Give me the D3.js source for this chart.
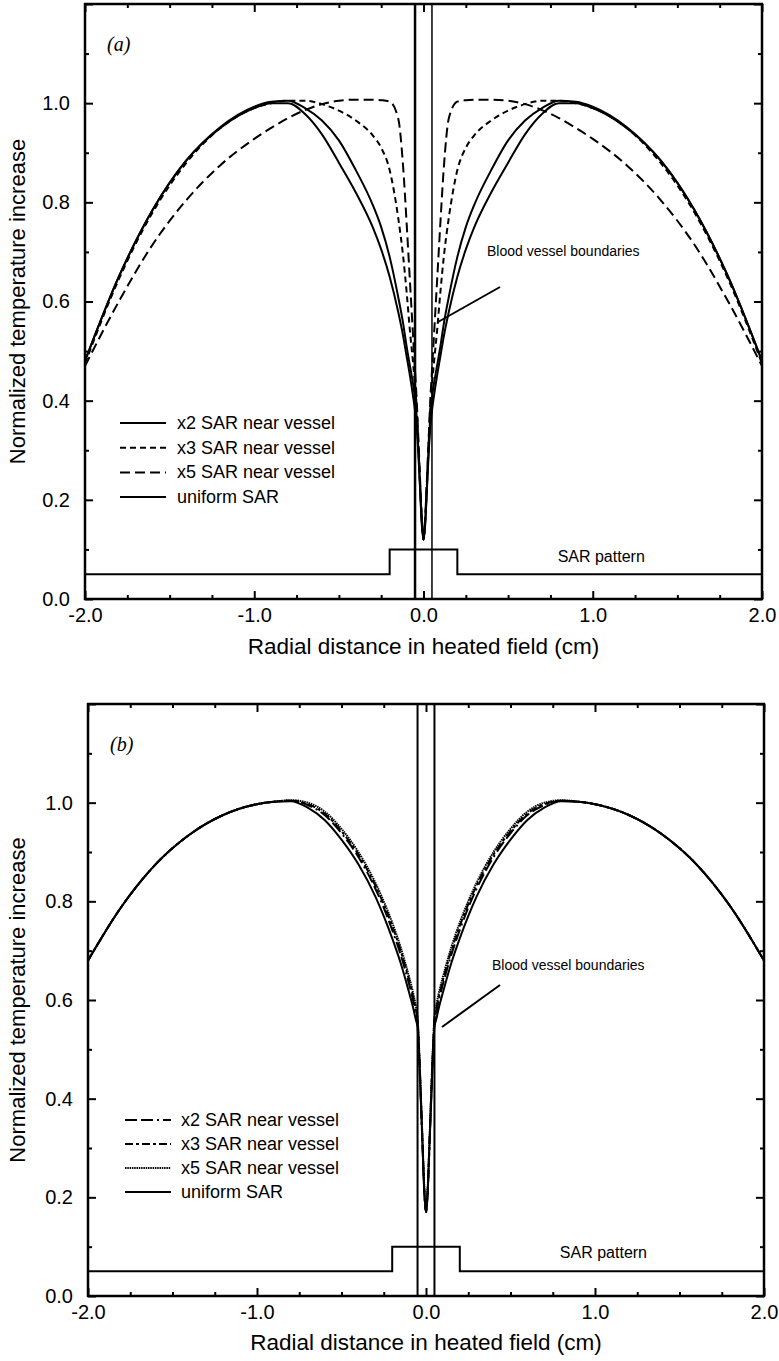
<!DOCTYPE html>
<html>
<head>
<meta charset="utf-8">
<script src="https://cdnjs.cloudflare.com/ajax/libs/d3/7.8.5/d3.min.js"></script>
<style>
  html, body { margin: 0; padding: 0; background: #fff; }
  svg { display: block; }
  text { font-family: "Liberation Sans", Arial, Helvetica, sans-serif; fill: #000; }
</style>
</head>
<body>
<svg id="chart" width="779" height="1361"></svg>
<script>
// ---------------- DATA ----------------
const xTickMajor = [-2, -1, 0, 1, 2];
const xTickLabels = ["-2.0", "-1.0", "0.0", "1.0", "2.0"];
const xTickMinor = [-1.75, -1.5, -1.25, -0.75, -0.5, -0.25, 0.25, 0.5, 0.75, 1.25, 1.5, 1.75];
const yTickMajor = [0, 0.2, 0.4, 0.6, 0.8, 1.0, 1.2];
const yTickLabels = ["0.0", "0.2", "0.4", "0.6", "0.8", "1.0", ""];
const yTickMinor = [0.1, 0.3, 0.5, 0.7, 0.9, 1.1];

// radial positions (cm)
const radialX = [-2.0, -1.8, -1.6, -1.4, -1.2, -1.0, -0.9, -0.8, -0.7, -0.6, -0.5, -0.4, -0.3, -0.25, -0.2, -0.15, -0.12, -0.1, -0.08, -0.06, -0.05, -0.04, -0.03, -0.02, -0.01, 0,
                 0.01, 0.02, 0.03, 0.04, 0.05, 0.06, 0.08, 0.1, 0.12, 0.15, 0.2, 0.25, 0.3, 0.4, 0.5, 0.6, 0.7, 0.8, 0.9, 1.0, 1.2, 1.4, 1.6, 1.8, 2.0];

// panel (a)
const a_x2 = [0.48, 0.65, 0.785, 0.885, 0.952, 0.993, 1.003, 1.005, 0.99, 0.965, 0.925, 0.865, 0.795, 0.75, 0.69, 0.61, 0.555, 0.51, 0.47, 0.43, 0.405, 0.365, 0.30, 0.225, 0.155, 0.12,
              0.155, 0.225, 0.30, 0.365, 0.405, 0.43, 0.47, 0.51, 0.555, 0.61, 0.69, 0.75, 0.795, 0.865, 0.925, 0.965, 0.99, 1.005, 1.003, 0.993, 0.952, 0.885, 0.785, 0.65, 0.48];
const a_x3 = [0.475, 0.645, 0.78, 0.88, 0.95, 0.99, 1.0, 1.005, 1.005, 0.998, 0.985, 0.965, 0.935, 0.91, 0.865, 0.77, 0.69, 0.62, 0.54, 0.47, 0.43, 0.385, 0.31, 0.23, 0.16, 0.12,
              0.16, 0.23, 0.31, 0.385, 0.43, 0.47, 0.54, 0.62, 0.69, 0.77, 0.865, 0.91, 0.935, 0.965, 0.985, 0.998, 1.005, 1.005, 1.0, 0.99, 0.95, 0.88, 0.78, 0.645, 0.475];
const a_x5 = [0.47, 0.60, 0.715, 0.805, 0.875, 0.928, 0.95, 0.97, 0.986, 0.998, 1.005, 1.007, 1.007, 1.006, 1.003, 0.97, 0.87, 0.76, 0.64, 0.52, 0.46, 0.40, 0.32, 0.24, 0.165, 0.12,
              0.165, 0.24, 0.32, 0.40, 0.46, 0.52, 0.64, 0.76, 0.87, 0.97, 1.003, 1.006, 1.007, 1.007, 1.005, 0.998, 0.986, 0.97, 0.95, 0.928, 0.875, 0.805, 0.715, 0.60, 0.47];
const a_uni = [0.48, 0.65, 0.785, 0.885, 0.95, 0.99, 1.0, 1.0, 0.978, 0.937, 0.88, 0.82, 0.75, 0.705, 0.65, 0.58, 0.53, 0.49, 0.45, 0.405, 0.38, 0.345, 0.29, 0.22, 0.15, 0.12,
               0.15, 0.22, 0.29, 0.345, 0.38, 0.405, 0.45, 0.49, 0.53, 0.58, 0.65, 0.705, 0.75, 0.82, 0.88, 0.937, 0.978, 1.0, 1.0, 0.99, 0.95, 0.885, 0.785, 0.65, 0.48];

// panel (b)
const b_x2 = [0.68, 0.79, 0.875, 0.935, 0.975, 0.997, 1.002, 1.004, 0.995, 0.975, 0.938, 0.89, 0.826, 0.787, 0.742, 0.692, 0.657, 0.632, 0.605, 0.573, 0.555, 0.485, 0.395, 0.30, 0.21, 0.17,
              0.21, 0.30, 0.395, 0.485, 0.555, 0.573, 0.605, 0.632, 0.657, 0.692, 0.742, 0.787, 0.826, 0.89, 0.938, 0.975, 0.995, 1.004, 1.002, 0.997, 0.975, 0.935, 0.875, 0.79, 0.68];
const b_x3 = [0.68, 0.79, 0.875, 0.935, 0.975, 0.997, 1.002, 1.004, 0.997, 0.978, 0.942, 0.895, 0.832, 0.794, 0.75, 0.70, 0.665, 0.64, 0.612, 0.58, 0.56, 0.49, 0.40, 0.305, 0.215, 0.17,
              0.215, 0.305, 0.40, 0.49, 0.56, 0.58, 0.612, 0.64, 0.665, 0.70, 0.75, 0.794, 0.832, 0.895, 0.942, 0.978, 0.997, 1.004, 1.002, 0.997, 0.975, 0.935, 0.875, 0.79, 0.68];
const b_x5 = [0.68, 0.79, 0.875, 0.935, 0.975, 0.997, 1.002, 1.005, 1.0, 0.982, 0.947, 0.90, 0.838, 0.80, 0.757, 0.707, 0.672, 0.647, 0.62, 0.587, 0.565, 0.495, 0.405, 0.31, 0.22, 0.175,
              0.22, 0.31, 0.405, 0.495, 0.565, 0.587, 0.62, 0.647, 0.672, 0.707, 0.757, 0.80, 0.838, 0.90, 0.947, 0.982, 1.0, 1.005, 1.002, 0.997, 0.975, 0.935, 0.875, 0.79, 0.68];
const b_uni = [0.68, 0.79, 0.875, 0.935, 0.975, 0.997, 1.002, 1.003, 0.99, 0.965, 0.925, 0.875, 0.81, 0.77, 0.725, 0.675, 0.64, 0.615, 0.59, 0.56, 0.545, 0.48, 0.39, 0.30, 0.21, 0.17,
               0.21, 0.30, 0.39, 0.48, 0.545, 0.56, 0.59, 0.615, 0.64, 0.675, 0.725, 0.77, 0.81, 0.875, 0.925, 0.965, 0.99, 1.003, 1.002, 0.997, 0.975, 0.935, 0.875, 0.79, 0.68];

// SAR pattern (step)
const sarX = [-2.0, -0.2, -0.2, 0.2, 0.2, 2.0];
const sarY = [0.05, 0.05, 0.10, 0.10, 0.05, 0.05];
// vessel boundaries
const vesselX = [-0.05, 0.05];

const legendLabels = ["x2 SAR near vessel", "x3 SAR near vessel", "x5 SAR near vessel", "uniform SAR"];
const xTitle = "Radial distance in heated field (cm)";
const yTitle = "Normalized temperature increase";

// ---------------- DRAW ----------------
const svg = d3.select("#chart");

function drawPanel(cfg) {
  const g = svg.append("g");
  const x = d3.scaleLinear().domain([-2, 2]).range([cfg.left, cfg.right]);
  const y = d3.scaleLinear().domain([0, 1.2]).range([cfg.bottom, cfg.top]);
  const clipId = "clip" + cfg.id;
  svg.append("clipPath").attr("id", clipId).append("rect")
    .attr("x", cfg.left).attr("y", cfg.top)
    .attr("width", cfg.right - cfg.left).attr("height", cfg.bottom - cfg.top);

  const fmtX = d => xTickLabels[xTickMajor.indexOf(d)];
  const fmtY = d => yTickLabels[yTickMajor.findIndex(v => Math.abs(v - d) < 1e-9)];
  g.append("g").attr("transform", `translate(0,${cfg.bottom})`)
    .call(d3.axisBottom(x).tickValues(xTickMajor).tickFormat(fmtX).tickSize(-8).tickPadding(9));
  g.append("g").attr("transform", `translate(0,${cfg.bottom})`)
    .call(d3.axisBottom(x).tickValues(xTickMinor).tickFormat("").tickSize(-4));
  g.append("g").attr("transform", `translate(0,${cfg.top})`)
    .call(d3.axisTop(x).tickValues(xTickMajor).tickFormat("").tickSize(-8));
  g.append("g").attr("transform", `translate(0,${cfg.top})`)
    .call(d3.axisTop(x).tickValues(xTickMinor).tickFormat("").tickSize(-4));
  g.append("g").attr("transform", `translate(${cfg.left},0)`)
    .call(d3.axisLeft(y).tickValues(yTickMajor).tickFormat(fmtY).tickSize(-8).tickPadding(15));
  g.append("g").attr("transform", `translate(${cfg.left},0)`)
    .call(d3.axisLeft(y).tickValues(yTickMinor).tickFormat("").tickSize(-4));
  g.append("g").attr("transform", `translate(${cfg.right},0)`)
    .call(d3.axisRight(y).tickValues(yTickMajor).tickFormat("").tickSize(-8));
  g.append("g").attr("transform", `translate(${cfg.right},0)`)
    .call(d3.axisRight(y).tickValues(yTickMinor).tickFormat("").tickSize(-4));
  g.selectAll(".domain").remove();
  g.selectAll(".tick line").attr("stroke", "#000").attr("stroke-width", 2);
  g.selectAll(".tick text").attr("font-size", 20).attr("fill", "#000")
    .style("font-family", "'Liberation Sans', Arial, sans-serif");

  // frame
  g.append("rect").attr("x", cfg.left).attr("y", cfg.top)
    .attr("width", cfg.right - cfg.left).attr("height", cfg.bottom - cfg.top)
    .attr("fill", "none").attr("stroke", "#000").attr("stroke-width", 2.5);

  const plot = g.append("g").attr("clip-path", `url(#${clipId})`);

  // SAR pattern
  const stepLine = d3.line().x((d, i) => x(sarX[i])).y((d, i) => y(sarY[i]));
  plot.append("path").attr("d", stepLine(sarX)).attr("fill", "none")
    .attr("stroke", "#000").attr("stroke-width", 2);

  // vessel boundaries
  plot.selectAll(".vessel").data(vesselX).enter().append("line")
    .attr("x1", d => x(d)).attr("x2", d => x(d))
    .attr("y1", y(0)).attr("y2", y(1.2))
    .attr("stroke", "#000").attr("stroke-width", (d, i) => cfg.vesselW[i]);

  // curves
  const line = d3.line().x((d, i) => x(radialX[i])).y(d => y(d)).curve(d3.curveMonotoneX);
  cfg.series.forEach(s => {
    plot.append("path").attr("d", line(s.values)).attr("fill", "none")
      .attr("stroke", "#000").attr("stroke-width", s.width)
      .attr("stroke-dasharray", s.dash || null);
  });

  // legend
  cfg.series.forEach((s, i) => {
    const ly = cfg.legendY + i * cfg.legendStep;
    g.append("line").attr("x1", cfg.legendX1).attr("x2", cfg.legendX2)
      .attr("y1", ly).attr("y2", ly).attr("stroke", "#000").attr("stroke-width", 2)
      .attr("stroke-dasharray", s.dash || null);
    g.append("text").attr("x", cfg.legendText).attr("y", ly + 6)
      .attr("font-size", 18).text(legendLabels[i]);
  });

  // panel label
  g.append("text").attr("x", cfg.left + 22).attr("y", cfg.top + 47)
    .style("font-family", "'Liberation Serif', 'DejaVu Serif', serif")
    .style("font-style", "italic").attr("font-size", 20).text(cfg.label);

  // SAR pattern text
  g.append("text").attr("x", x(1.05)).attr("y", cfg.sarTextY)
    .attr("text-anchor", "middle").attr("font-size", 16).text("SAR pattern");

  // blood vessel annotation
  g.append("text").attr("x", cfg.bvText[0]).attr("y", cfg.bvText[1])
    .attr("font-size", 14).text("Blood vessel boundaries");
  g.append("line").attr("x1", cfg.bvLine[0]).attr("y1", cfg.bvLine[1])
    .attr("x2", cfg.bvLine[2]).attr("y2", cfg.bvLine[3])
    .attr("stroke", "#000").attr("stroke-width", 2);

  // titles
  g.append("text").attr("x", x(0)).attr("y", cfg.xTitleY)
    .attr("text-anchor", "middle").attr("font-size", 22.5).text(xTitle);
  g.append("text")
    .attr("transform", `translate(25,${(cfg.top + cfg.bottom) / 2}) rotate(-90)`)
    .attr("text-anchor", "middle").attr("font-size", 22).text(yTitle);
}

drawPanel({
  id: "a", label: "(a)", left: 85, right: 762, top: 4, bottom: 599,
  vesselW: [2.5, 1.5],
  series: [
    { values: a_x2, width: 2 },
    { values: a_x3, width: 2, dash: "6,4" },
    { values: a_x5, width: 2, dash: "10,5" },
    { values: a_uni, width: 2 }
  ],
  legendY: 423, legendStep: 24.7, legendX1: 120, legendX2: 166, legendText: 177,
  sarTextY: 562, bvText: [487, 256], bvLine: [438, 322, 500, 287], xTitleY: 654
});

drawPanel({
  id: "b", label: "(b)", left: 88, right: 764, top: 704, bottom: 1296,
  vesselW: [2, 2],
  series: [
    { values: b_x2, width: 2, dash: "12,4,12,4,2,4" },
    { values: b_x3, width: 2, dash: "8,3,3,3" },
    { values: b_x5, width: 2, dash: "1.5,0.8" },
    { values: b_uni, width: 2 }
  ],
  legendY: 1120, legendStep: 24, legendX1: 125, legendX2: 171, legendText: 181,
  sarTextY: 1258, bvText: [492, 970], bvLine: [442, 1027, 500, 985], xTitleY: 1350
});
</script>
</body>
</html>
